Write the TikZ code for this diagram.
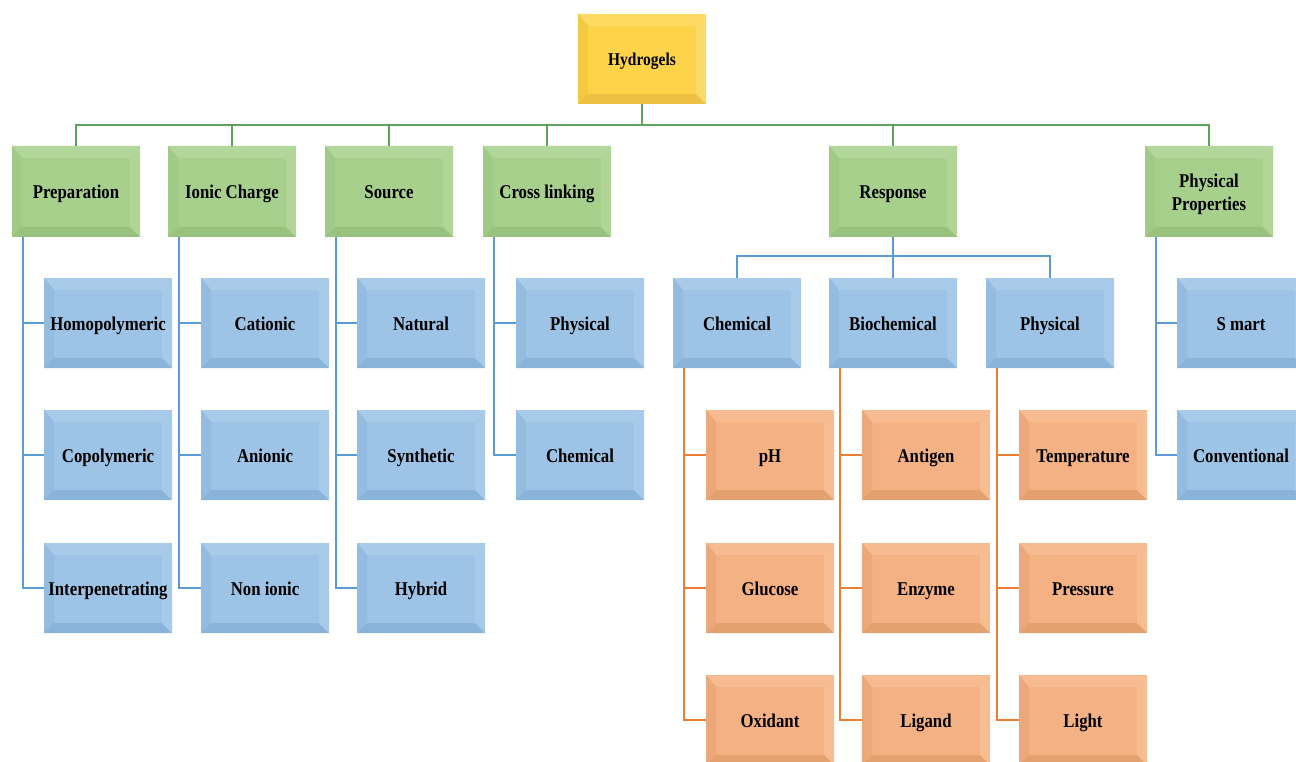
\documentclass[tikz,border=0pt]{standalone}
\usepackage{fontspec}
\setmainfont{Liberation Serif}[FakeStretch=0.86]
\begin{document}
\begin{tikzpicture}[x=1pt,y=-1pt,
  bevel/.style n args={5}{fill=#1, path picture={
    \fill[#2] (path picture bounding box.north west) -- (path picture bounding box.north east)
      -- ([xshift=-10pt,yshift=-12pt]path picture bounding box.north east)
      -- ([xshift=10pt,yshift=-12pt]path picture bounding box.north west) -- cycle;
    \fill[#3] (path picture bounding box.north west) -- ([xshift=10pt,yshift=-12pt]path picture bounding box.north west)
      -- ([xshift=10pt,yshift=10pt]path picture bounding box.south west)
      -- (path picture bounding box.south west) -- cycle;
    \fill[#4] (path picture bounding box.south west) -- (path picture bounding box.south east)
      -- ([xshift=-10pt,yshift=10pt]path picture bounding box.south east)
      -- ([xshift=10pt,yshift=10pt]path picture bounding box.south west) -- cycle;
    \fill[#5] (path picture bounding box.north east) -- ([xshift=-10pt,yshift=-12pt]path picture bounding box.north east)
      -- ([xshift=-10pt,yshift=10pt]path picture bounding box.south east)
      -- (path picture bounding box.south east) -- cycle;
  }},
  box/.style={rectangle, minimum width=128pt, minimum height=90pt, inner sep=0pt,
    align=center, font=\bfseries\fontsize{19.5}{23}\selectfont, text=black,
    text height=16pt, text depth=2pt},
  ybox/.style={box, bevel={yface}{ytop}{yleft}{ybot}{yright}, font=\bfseries\fontsize{18}{22}\selectfont},
  gbox/.style={box, bevel={gface}{gtop}{gleft}{gbot}{gright}, minimum height=91pt},
  bbox/.style={box, bevel={bface}{btop}{bleft}{bbot}{bright}},
  obox/.style={box, bevel={oface}{otop}{oleft}{obot}{oright}},
  gline/.style={draw=gl, line width=2pt},
  bline/.style={draw=bl, line width=2pt},
  oline/.style={draw=ol, line width=2pt}
]
\definecolor{yface}{HTML}{FDD34A}\definecolor{ytop}{HTML}{FDDA62}\definecolor{yleft}{HTML}{F5C842}
\definecolor{ybot}{HTML}{EDC044}\definecolor{yright}{HTML}{FBDA6A}
\definecolor{gface}{HTML}{A8D08D}\definecolor{gtop}{HTML}{B3D69A}\definecolor{gleft}{HTML}{A0CA85}
\definecolor{gbot}{HTML}{98C27D}\definecolor{gright}{HTML}{B0D597}
\definecolor{bface}{HTML}{9DC3E6}\definecolor{btop}{HTML}{A9CBEA}\definecolor{bleft}{HTML}{94BBE0}
\definecolor{bbot}{HTML}{8AB3D9}\definecolor{bright}{HTML}{A7CAEA}
\definecolor{oface}{HTML}{F4B183}\definecolor{otop}{HTML}{F6BB91}\definecolor{oleft}{HTML}{EDA87A}
\definecolor{obot}{HTML}{E4A170}\definecolor{oright}{HTML}{F6BD93}
\definecolor{gl}{HTML}{5FA35B}\definecolor{bl}{HTML}{5B9BD5}\definecolor{ol}{HTML}{ED7D31}

\useasboundingbox (0,0) rectangle (1296,762);
\clip (0,0) rectangle (1296,762);
\fill[white] (0,0) rectangle (1296,762);

% root
\node[ybox] (hyd) at (642,59) {Hydrogels};

% green level
\node[gbox] (prep) at (76,191.5) {Preparation};
\node[gbox] (ion)  at (232,191.5) {Ionic Charge};
\node[gbox] (src)  at (389,191.5) {Source};
\node[gbox] (cross) at (547,191.5) {Cross linking};
\node[gbox] (resp) at (893,191.5) {Response};
\node[gbox, text height=, text depth=] (phys) at (1209,191.5) {\rule{0pt}{20pt}Physical\\Properties};

% blue children
\node[bbox] (homo) at (108,323) {Homopolymeric};
\node[bbox] (copo) at (108,455) {Copolymeric};
\node[bbox] (inter) at (108,588) {Interpenetrating};
\node[bbox] (cat) at (265,323) {Cationic};
\node[bbox] (ani) at (265,455) {Anionic};
\node[bbox] (non) at (265,588) {Non ionic};
\node[bbox] (nat) at (421,323) {Natural};
\node[bbox] (syn) at (421,455) {Synthetic};
\node[bbox] (hyb) at (421,588) {Hybrid};
\node[bbox] (cphy) at (580,323) {Physical};
\node[bbox] (cche) at (580,455) {Chemical};
\node[bbox] (smart) at (1241,323) {S mart};
\node[bbox] (conv) at (1241,455) {Conventional};

\node[bbox] (rchem) at (737,323) {Chemical};
\node[bbox] (rbio) at (893,323) {Biochemical};
\node[bbox] (rphy) at (1050,323) {Physical};

% orange children
\node[obox] (ph) at (770,455) {pH};
\node[obox] (glu) at (770,588) {Glucose};
\node[obox] (oxi) at (770,720) {Oxidant};
\node[obox] (anti) at (926,455) {Antigen};
\node[obox] (enz) at (926,588) {Enzyme};
\node[obox] (lig) at (926,720) {Ligand};
\node[obox] (temp) at (1083,455) {Temperature};
\node[obox] (pres) at (1083,588) {Pressure};
\node[obox] (light) at (1083,720) {Light};

% green connectors
\foreach \c in {prep,ion,src,cross,resp,phys}
  \draw[gline] (hyd.south) -- ++(0,21) -| (\c.north);

% blue connectors
\foreach \p/\a/\b/\c in {prep/homo/copo/inter, ion/cat/ani/non, src/nat/syn/hyb}{
  \draw[bline] ([xshift=11pt]\p.south west) |- (\a.west);
  \draw[bline] ([xshift=11pt]\p.south west) |- (\b.west);
  \draw[bline] ([xshift=11pt]\p.south west) |- (\c.west);
}
\foreach \p/\a/\b in {cross/cphy/cche, phys/smart/conv}{
  \draw[bline] ([xshift=11pt]\p.south west) |- (\a.west);
  \draw[bline] ([xshift=11pt]\p.south west) |- (\b.west);
}
\foreach \c in {rchem,rbio,rphy}
  \draw[bline] (resp.south) -- ++(0,19) -| (\c.north);

% orange connectors
\foreach \p/\a/\b/\c in {rchem/ph/glu/oxi, rbio/anti/enz/lig, rphy/temp/pres/light}{
  \draw[oline] ([xshift=11pt]\p.south west) |- (\a.west);
  \draw[oline] ([xshift=11pt]\p.south west) |- (\b.west);
  \draw[oline] ([xshift=11pt]\p.south west) |- (\c.west);
}
\end{tikzpicture}
\end{document}
